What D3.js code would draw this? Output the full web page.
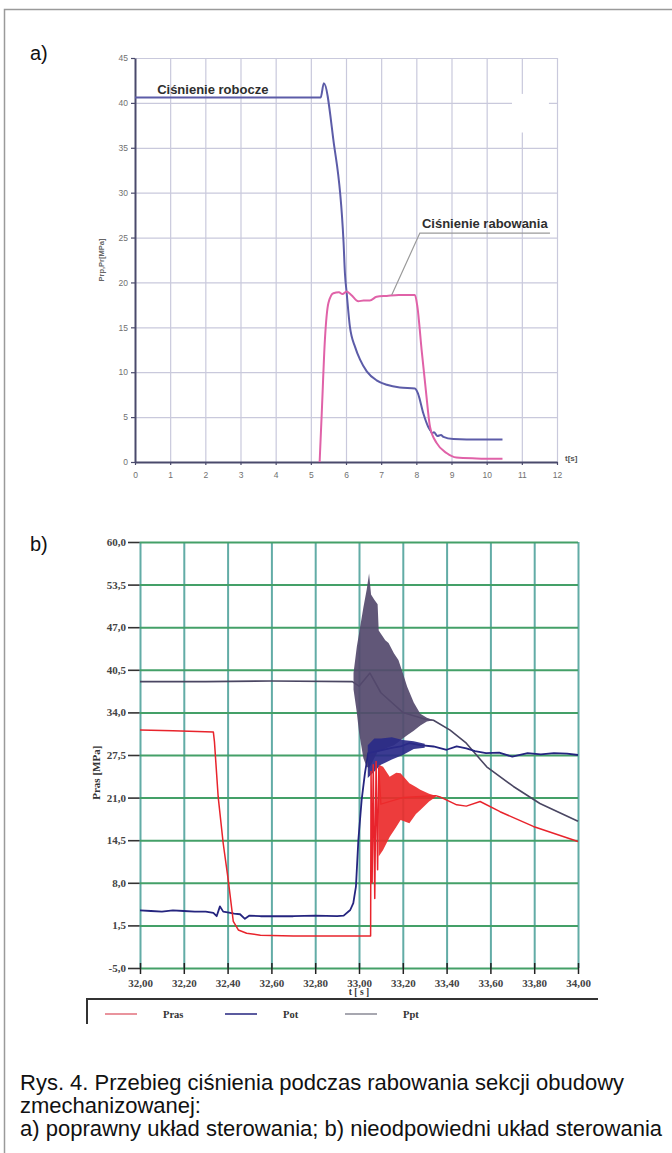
<!DOCTYPE html>
<html>
<head>
<meta charset="utf-8">
<script src="https://cdn.jsdelivr.net/npm/d3@7"></script>
<style>
  body { margin: 0; background: #fff; }
  svg text { font-family: "Liberation Sans", Arial, sans-serif; }
</style>
</head>
<body>
<div id="fig"></div>
<script>
// ---- chart a) : time [s] vs pressure [MPa]
const aXTicks = [0, 1, 2, 3, 4, 5, 6, 7, 8, 9, 10, 11, 12];
const aYTicks = [0, 5, 10, 15, 20, 25, 30, 35, 40, 45];

const roboczeData = [
  [0, 40.6], [2, 40.6], [4, 40.6], [5.28, 40.6], [5.37, 42.2], [5.64, 35.9],
  [5.93, 24.5], [5.97, 21.0], [6.02, 18.8], [6.11, 15.1], [6.26, 12.8],
  [6.40, 11.4], [6.59, 10.1], [6.87, 9.1], [7.16, 8.6], [7.53, 8.3],
  [7.96, 8.2], [8.05, 7.6], [8.20, 5.4], [8.34, 3.9], [8.40, 3.5],
  [8.45, 3.2], [8.50, 3.3], [8.60, 2.9], [8.70, 3.0], [8.77, 2.8],
  [9.05, 2.55], [9.43, 2.5], [10.0, 2.5], [10.45, 2.5]
];

const rabowaniaData = [
  [5.25, 0], [5.31, 5.4], [5.40, 13.6], [5.50, 17.7], [5.64, 18.8],
  [5.80, 18.9], [5.90, 18.7], [6.02, 19.0], [6.15, 18.6], [6.35, 17.9],
  [6.50, 18.0], [6.68, 18.0], [6.87, 18.4], [7.16, 18.5], [7.50, 18.6],
  [7.96, 18.6], [8.03, 17.3], [8.15, 12.5], [8.27, 8.0], [8.39, 3.9],
  [8.58, 2.1], [8.86, 1.0], [9.14, 0.5], [9.71, 0.4], [10.45, 0.35]
];

// ---- chart b) : t [s] vs pressure [MPa]
const bXTicks = [32.0, 32.2, 32.4, 32.6, 32.8, 33.0, 33.2, 33.4, 33.6, 33.8, 34.0];
const bYTicks = [-5, 1.5, 8, 14.5, 21, 27.5, 34, 40.5, 47, 53.5, 60];

const pptData = [
  [32.00, 38.7], [32.30, 38.7], [32.60, 38.8], [32.97, 38.7], [33.00, 38.0],
  [33.05, 40.0], [33.10, 37.0], [33.20, 34.0], [33.30, 33.0], [33.34, 32.8],
  [33.416, 31.3], [33.49, 29.3], [33.583, 25.7], [33.705, 22.7],
  [33.826, 20.1], [34.00, 17.4]
];
// envelope of the oscillation: [t, upper, lower]
const pptBand = [
  [32.975, 40.0, 37.5], [32.99, 44.0, 34.0], [33.00, 46.0, 31.0],
  [33.02, 50.0, 27.0], [33.035, 52.7, 25.7], [33.046, 55.2, 25.5],
  [33.055, 52.0, 26.0], [33.07, 51.2, 27.0], [33.085, 50.5, 28.0],
  [33.09, 46.5, 28.0], [33.12, 45.0, 28.5], [33.135, 44.6, 28.7],
  [33.16, 43.0, 29.0], [33.18, 42.0, 29.5], [33.20, 40.0, 30.0],
  [33.22, 37.9, 30.5], [33.25, 35.5, 31.2], [33.28, 33.8, 32.0],
  [33.31, 33.2, 32.6], [33.34, 32.8, 32.8]
];

const potData = [
  [32.00, 3.8], [32.05, 3.7], [32.10, 3.6], [32.15, 3.8], [32.20, 3.7],
  [32.25, 3.6], [32.30, 3.6], [32.335, 3.4], [32.35, 2.9], [32.365, 4.4],
  [32.38, 3.6], [32.40, 3.5], [32.43, 3.3], [32.457, 3.2], [32.479, 2.5],
  [32.50, 3.0], [32.55, 2.9], [32.60, 2.9], [32.70, 2.9], [32.80, 3.0],
  [32.90, 2.9], [32.93, 3.0], [32.96, 3.85], [32.974, 4.9], [32.986, 7.4],
  [32.997, 14.5], [33.012, 20.6], [33.027, 24.7], [33.042, 27.8],
  [33.10, 28.2], [33.15, 28.6], [33.19, 28.8], [33.23, 29.3], [33.28, 29.0],
  [33.34, 28.8], [33.40, 28.3], [33.446, 28.8], [33.49, 28.5], [33.53, 28.1],
  [33.58, 27.8], [33.64, 27.85], [33.70, 27.25], [33.77, 27.8], [33.83, 27.6],
  [33.89, 27.8], [33.95, 27.7], [34.00, 27.5]
];
const potBand = [
  [33.04, 29.0, 24.0], [33.07, 30.0, 25.0], [33.10, 30.0, 26.0],
  [33.15, 30.2, 26.8], [33.20, 29.8, 27.5], [33.25, 29.6, 28.4],
  [33.30, 29.2, 28.6]
];

const prasData = [
  [32.00, 31.3], [32.15, 31.2], [32.335, 31.0], [32.34, 29.5], [32.357, 21.1],
  [32.38, 14.0], [32.403, 8.4], [32.426, 2.1], [32.449, 0.8], [32.487, 0.3],
  [32.55, 0.0], [32.70, -0.1], [33.053, -0.1], [33.055, 25.0], [33.06, 8.0],
  [33.065, 26.0], [33.072, 5.6], [33.078, 26.5], [33.085, 10.0], [33.09, 25.5],
  [33.10, 20.0], [33.20, 21.0], [33.30, 21.2], [33.35, 21.3], [33.37, 21.1],
  [33.446, 19.9], [33.49, 19.7], [33.553, 20.4], [33.644, 18.85],
  [33.796, 16.6], [34.00, 14.3]
];
const prasBand = [
  [33.09, 26.0, 12.0], [33.11, 25.7, 13.0], [33.14, 24.2, 15.0],
  [33.17, 24.8, 16.5], [33.19, 24.7, 17.6], [33.23, 23.2, 17.1],
  [33.26, 22.6, 18.5], [33.28, 22.2, 19.1], [33.32, 21.6, 20.4],
  [33.35, 21.3, 21.1]
];

const legendNames = ['Pras', 'Pot', 'Ppt'];

const captionLines = [
  'Rys. 4. Przebieg ciśnienia podczas rabowania sekcji obudowy',
  'zmechanizowanej:',
  'a) poprawny układ sterowania; b) nieodpowiedni układ sterowania'
];

// ------------------------------------------------------------------
const W = 672, H = 1153;
const svg = d3.select('#fig').append('svg')
  .attr('width', W).attr('height', H);

// page frame
svg.append('path')
  .attr('d', `M4.5,${H} V9.5 H${W}`)
  .attr('fill', 'none').attr('stroke', '#9a9a9a').attr('stroke-width', 1.5);

// ================= chart a) =================
const xA = d3.scaleLinear().domain([0, 12]).range([135, 557]);
const yA = d3.scaleLinear().domain([0, 45]).range([462, 58]);

svg.append('text').attr('x', 30).attr('y', 60)
  .style('font-size', '20px').attr('fill', '#111').text('a)');

const ga = svg.append('g');

// grid
ga.append('g')
  .attr('transform', `translate(0,${yA(0)})`)
  .call(d3.axisBottom(xA).tickValues(aXTicks.slice(1)).tickSize(-(yA(0) - yA(45))).tickFormat(''))
  .call(g => g.select('.domain').remove())
  .call(g => g.selectAll('line').attr('stroke', '#c9c9dc').attr('stroke-width', 1.2));
ga.append('g')
  .attr('transform', `translate(${xA(0)},0)`)
  .call(d3.axisLeft(yA).tickValues(aYTicks.slice(1)).tickSize(-(xA(12) - xA(0))).tickFormat(''))
  .call(g => g.select('.domain').remove())
  .call(g => g.selectAll('line').attr('stroke', '#c9c9dc').attr('stroke-width', 1.2));

// blank patch in the scanned grid
ga.append('rect')
  .attr('x', xA(10.72)).attr('y', yA(41.0))
  .attr('width', xA(11.77) - xA(10.72)).attr('height', yA(36.7) - yA(41.0))
  .attr('fill', '#fff');

// axes
const axAL = ga.append('g')
  .attr('transform', `translate(${xA(0)},0)`)
  .call(d3.axisLeft(yA).tickValues(aYTicks).tickSize(4).tickPadding(3).tickSizeOuter(0));
const axAB = ga.append('g')
  .attr('transform', `translate(0,${yA(0)})`)
  .call(d3.axisBottom(xA).tickValues(aXTicks).tickSize(3).tickPadding(7).tickSizeOuter(0));
[axAL, axAB].forEach(g => {
  g.select('.domain').attr('stroke', '#4a4a6c').attr('stroke-width', 2);
  g.selectAll('.tick line').attr('stroke', '#4a4a6c').attr('stroke-width', 1.2);
  g.selectAll('.tick text').attr('fill', '#707070')
    .style('font-size', '8.5px').style('font-family', '"Liberation Sans", Arial, sans-serif');
});

// axis titles
ga.append('text')
  .attr('transform', `translate(104,${yA(22.5)}) rotate(-90)`)
  .attr('text-anchor', 'middle')
  .style('font-size', '7.5px').style('font-weight', 'bold').attr('fill', '#666')
  .text('Prp,Pr[MPa]');
ga.append('text')
  .attr('x', xA(12) + 8).attr('y', yA(0) - 1)
  .style('font-size', '8px').style('font-weight', 'bold').attr('fill', '#555')
  .text('t[s]');

// lines
const lineA = d3.line().x(d => xA(d[0])).y(d => yA(d[1])).curve(d3.curveMonotoneX);
ga.append('path').datum(roboczeData).attr('d', lineA)
  .attr('fill', 'none').attr('stroke', '#5c5ca8').attr('stroke-width', 2);
ga.append('path').datum(rabowaniaData).attr('d', lineA)
  .attr('fill', 'none').attr('stroke', '#e062a8').attr('stroke-width', 2);

// annotations
ga.append('text')
  .attr('x', xA(0.63)).attr('y', yA(40.95))
  .style('font-size', '13px').style('font-weight', 'bold').attr('fill', '#2e2e2e')
  .text('Ciśnienie robocze');
ga.append('path')
  .attr('d', d3.line()([[xA(7.30), yA(18.6)], [xA(8.10), yA(25.5)], [xA(11.8), yA(25.5)]]))
  .attr('fill', 'none').attr('stroke', '#9a9a9a').attr('stroke-width', 1.2);
ga.append('text')
  .attr('x', xA(8.16)).attr('y', yA(26.06))
  .style('font-size', '13px').style('font-weight', 'bold').attr('fill', '#2e2e2e')
  .text('Ciśnienie rabowania');

// ================= chart b) =================
const xB = d3.scaleLinear().domain([32, 34]).range([140, 578]);
const yB = d3.scaleLinear().domain([-5, 60]).range([968, 542]);
const locale = d3.formatLocale({ decimal: ',', thousands: '.', grouping: [3], currency: ['', ''], minus: '-' });
const fmtY = locale.format('.1f'), fmtX = locale.format('.2f');
const serif = '"Liberation Serif", "Times New Roman", serif';

svg.append('text').attr('x', 30).attr('y', 551)
  .style('font-size', '20px').attr('fill', '#111').text('b)');

const gb = svg.append('g');

// left tick marks + labels (below the grid)
const axBL = gb.append('g')
  .attr('transform', `translate(${xB(32)},0)`)
  .call(d3.axisLeft(yB).tickValues(bYTicks).tickSize(12).tickPadding(2).tickFormat(fmtY));
axBL.select('.domain').remove();
axBL.selectAll('.tick line').attr('stroke', '#333').attr('stroke-width', 1.6);
axBL.selectAll('.tick text').attr('fill', '#444')
  .style('font-size', '11px').style('font-weight', 'bold').style('font-family', serif);

// grid
gb.append('g')
  .attr('transform', `translate(0,${yB(-5)})`)
  .call(d3.axisBottom(xB).tickValues(bXTicks).tickSize(-(yB(-5) - yB(60))).tickFormat(''))
  .call(g => g.select('.domain').remove())
  .call(g => g.selectAll('line').attr('stroke', '#62aca6').attr('stroke-width', 2));
gb.append('g')
  .attr('transform', `translate(${xB(32)},0)`)
  .call(d3.axisLeft(yB).tickValues(bYTicks).tickSize(-(xB(34) - xB(32))).tickFormat(''))
  .call(g => g.select('.domain').remove())
  .call(g => g.selectAll('line').attr('stroke', '#44a068').attr('stroke-width', 2));

// bottom ticks + labels
const axBB = gb.append('g')
  .attr('transform', `translate(0,${yB(-5)})`)
  .call(d3.axisBottom(xB).tickValues(bXTicks).tickSize(6).tickPadding(5).tickFormat(fmtX));
axBB.select('.domain').remove();
axBB.selectAll('.tick line').attr('y1', -5).attr('stroke', '#222').attr('stroke-width', 1.5);
axBB.selectAll('.tick text').attr('fill', '#444')
  .style('font-size', '11px').style('font-weight', 'bold').style('font-family', serif);

// series: line first, the oscillation envelope drawn over it
const colors = { Pras: '#e8242c', Pot: '#25257f', Ppt: '#4a4662' };
const bandFill = { Pras: '#ec2b2b', Pot: '#2a2a88', Ppt: '#54496c' };
const lineB = d3.line().x(d => xB(d[0])).y(d => yB(d[1]));
const areaB = d3.area().x(d => xB(d[0])).y0(d => yB(d[2])).y1(d => yB(d[1]));

const seriesB = [
  { name: 'Ppt', data: pptData, band: pptBand, width: 1.6 },
  { name: 'Pot', data: potData, band: potBand, width: 1.8 },
  { name: 'Pras', data: prasData, band: prasBand, width: 1.5 }
];
seriesB.forEach(s => {
  gb.append('path').datum(s.data).attr('d', lineB)
    .attr('fill', 'none').attr('stroke', colors[s.name]).attr('stroke-width', s.width)
    .attr('stroke-linejoin', 'round');
  gb.append('path').datum(s.band).attr('d', areaB)
    .attr('fill', bandFill[s.name]).attr('fill-opacity', 0.92);
});

// axis titles
gb.append('text')
  .attr('transform', `translate(100,${yB(24.8)}) rotate(-90)`)
  .attr('text-anchor', 'middle')
  .style('font-family', serif)
  .style('font-size', '11px').style('font-weight', 'bold').attr('fill', '#333')
  .text('Pras [MPa]');
gb.append('text')
  .attr('x', xB(33)).attr('y', 995)
  .attr('text-anchor', 'middle')
  .style('font-family', serif)
  .style('font-size', '9.5px').style('font-weight', 'bold').attr('fill', '#333')
  .text('t [ s ]');

// legend box
const lg = gb.append('g');
lg.append('path')
  .attr('d', 'M87,1024 V999 H598')
  .attr('fill', 'none').attr('stroke', '#333').attr('stroke-width', 2);
legendNames.forEach((name, i) => {
  const x = 105 + i * 120;
  lg.append('line')
    .attr('x1', x).attr('x2', x + 32).attr('y1', 1014).attr('y2', 1014)
    .attr('stroke', name === 'Ppt' ? '#8a8a96' : (name === 'Pras' ? '#e2707c' : colors[name]))
    .attr('stroke-width', 1.5);
  lg.append('text')
    .attr('x', x + 58).attr('y', 1018)
    .style('font-family', serif)
    .style('font-size', '10.5px').style('font-weight', 'bold').attr('fill', '#333')
    .text(name);
});

// ================= caption =================
svg.append('g').selectAll('text')
  .data(captionLines)
  .join('text')
  .attr('x', 20)
  .attr('y', (d, i) => 1090 + i * 23)
  .style('font-size', '22px').attr('fill', '#111')
  .text(d => d);
</script>
</body>
</html>
